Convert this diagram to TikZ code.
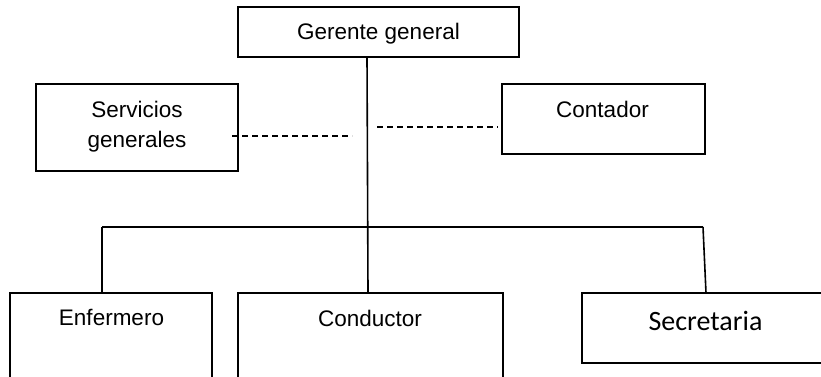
\documentclass[tikz,border=0pt]{standalone}
\usepackage{fontspec}
\setmainfont{Liberation Sans}
\newfontfamily\calibri{Carlito}
\begin{document}
\begin{tikzpicture}[x=1pt,y=-1pt,
  box/.style={draw, line width=1.6pt, inner sep=0pt, rectangle},
  lbl/.style={anchor=base, inner sep=0pt, font=\fontsize{22.5}{30}\selectfont},
  conn/.style={line width=1.6pt},
  dconn/.style={line width=1.2pt, dash pattern=on 6pt off 4pt}]
\useasboundingbox (0,0) rectangle (821,376);
\clip (0,0) rectangle (821,376);
% boxes
\node[box, minimum width=281pt, minimum height=50pt] (g) at (378.5,32) {};
\node[box, minimum width=202pt, minimum height=87pt] (sg) at (137,127.5) {};
\node[box, minimum width=203pt, minimum height=70pt] (ct) at (603.5,119) {};
\node[box, minimum width=202pt, minimum height=120pt] (en) at (111,353) {};
\node[box, minimum width=265pt, minimum height=120pt] (cd) at (370.5,353) {};
\node[box, minimum width=268pt, minimum height=70pt] (se) at (716,328) {};
% labels
\node[lbl] (gt) at (378.5,39.3) {Gerente general};
\node[lbl] (sgt1) at (137,117.3) {Servicios};
\node[lbl] (sgt2) at (137,147) {generales};
\node[lbl] (ctt) at (602.5,117) {Contador};
\node[lbl] (ent) at (111.5,325.7) {Enfermero};
\node[lbl] (cdt) at (370,326) {Conductor};
\node[anchor=base, inner sep=0pt, font=\calibri\fontsize{28}{34}\selectfont] (set) at (705.5,330.7) {Secretaria};
% coordinates
\coordinate (gs) at (367,57);
\coordinate (cdn) at (368,293);
\coordinate (hl) at (102,227);
\coordinate (hr) at (703,227);
\coordinate (sen) at (706,293);
\coordinate (enn) at (102,293);
\coordinate (d1a) at (232,136);
\coordinate (d1b) at (352,136);
\coordinate (d2a) at (377,127);
\coordinate (d2b) at (498,127);
% connectors
\draw[conn] (gs) -- (cdn);
\draw[conn] (hl) -- (hr);
\draw[conn] (hl) -- (enn);
\draw[conn] (hr) -- (sen);
\draw[dconn] (d1a) -- (d1b);
\draw[dconn] (d2a) -- (d2b);
\end{tikzpicture}
\end{document}
